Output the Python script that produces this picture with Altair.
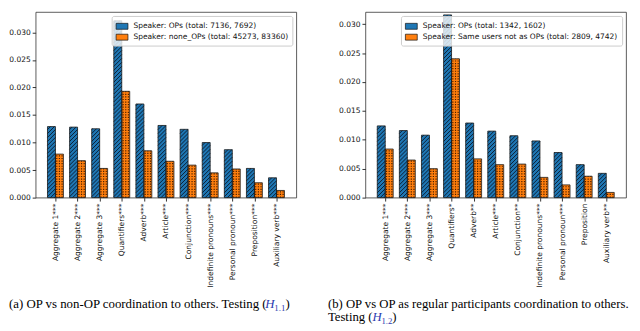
import altair as alt
import pandas as pd

# ---------------- data ----------------
categories_a = ["Aggregate 1***", "Aggregate 2***", "Aggregate 3***", "Quantifiers***",
                "Adverb***", "Article***", "Conjunction***", "Indefinite pronouns***",
                "Personal pronoun***", "Preposition***", "Auxiliary verb***"]
op_a = [0.0129, 0.0128, 0.0125, 0.0321, 0.0170, 0.0131, 0.0124, 0.0100, 0.0087, 0.0053, 0.0036]
non_a = [0.0079, 0.0067, 0.0053, 0.0193, 0.0085, 0.0066, 0.0059, 0.0045, 0.0052, 0.0027, 0.0013]
series_a = ["Speaker: OPs (total: 7136, 7692)", "Speaker: none_OPs (total: 45273, 83360)"]

categories_b = ["Aggregate 1***", "Aggregate 2***", "Aggregate 3***", "Quantifiers*",
                "Adverb**", "Article***", "Conjunction**", "Indefinite pronouns***",
                "Personal pronoun***", "Preposition", "Auxiliary verb**"]
op_b = [0.0124, 0.0116, 0.0108, 0.0316, 0.0129, 0.0115, 0.0107, 0.0098, 0.0078, 0.0057, 0.0042]
non_b = [0.0084, 0.0065, 0.0050, 0.0240, 0.0067, 0.0057, 0.0058, 0.0035, 0.0022, 0.0037, 0.0009]
series_b = ["Speaker: OPs (total: 1342, 1602)", "Speaker: Same users not as OPs (total: 2809, 4742)"]

y_ticks = [0.000, 0.005, 0.010, 0.015, 0.020, 0.025, 0.030]

caption_a = ["(a) OP vs non-OP coordination to others. Testing (", "H", "1.1", ")"]
caption_b1 = "(b) OP vs OP as regular participants coordination to others."
caption_b2 = ["Testing (", "H", "1.2", ")"]

# ---------------- style / layout ----------------
W, H = 264, 188
BW = 0.36
BLUE, ORANGE = "#1f77b4", "#ff7f0e"
HATCH_STEP = 4.0   # px between diagonal lines (vertical distance)
DOT_STEP = 2.6     # px between dot columns
CAP_BLUE = "#2b3bb0"
AX_FS = 7.6


def panel(cats, op, non, series, ymax, captions):
    n = len(cats)
    margin = 0.05 * (n - 1 + 2 * BW)
    xdom = [-BW - margin, n - 1 + BW + margin]
    sx = W / (xdom[1] - xdom[0])
    sy = H / ymax

    rows = []
    for i, (a, b) in enumerate(zip(op, non)):
        rows.append(dict(x0=i - BW, x1=i, y0=0.0, y1=a, s=series[0]))
        rows.append(dict(x0=i, x1=i + BW, y0=0.0, y1=b, s=series[1]))
    bars = pd.DataFrame(rows)

    # diagonal hatch ("///") for the first series, computed from the bar values
    hatch = []
    bwp = BW * sx
    for i, a in enumerate(op):
        bh = a * sy
        c = -bwp + 1.0
        while c < bh:
            xa, xb = max(0.0, -c), min(bwp, bh - c)
            if xb > xa:
                hatch.append(dict(hx0=i - BW + xa / sx, hy0=(xa + c) / sy,
                                  hx1=i - BW + xb / sx, hy1=(xb + c) / sy))
            c += HATCH_STEP
    hatch = pd.DataFrame(hatch)

    # dotted hatch ("...") for the second series: dashed vertical rules
    dots = []
    ncol = max(1, int(bwp / DOT_STEP))
    for i, b in enumerate(non):
        for k in range(ncol):
            xx = i + (k + 0.5) * BW / ncol
            dots.append(dict(dx=xx, dy0=0.0, dy1=b))
    dots = pd.DataFrame(dots)

    label_expr = "[" + ",".join('"%s"' % c for c in cats) + "][datum.value]"
    xaxis = alt.Axis(values=list(range(n)), labelExpr=label_expr, labelAngle=270,
                     labelAlign="right", labelBaseline="middle", labelFontSize=AX_FS,
                     labelColor="#111", tickSize=3.5, tickColor="#333", labelPadding=2,
                     domain=False, grid=False, title=None, labelLimit=300)
    yaxis = alt.Axis(values=y_ticks, format=".3f", labelFontSize=AX_FS, labelColor="#111",
                     tickSize=3.5, tickColor="#333", labelPadding=2, domain=False,
                     grid=False, title=None)
    xs = alt.Scale(domain=xdom, nice=False, zero=False)
    ys = alt.Scale(domain=[0, ymax], nice=False)

    fill_layer = alt.Chart(bars).mark_rect(strokeWidth=0).encode(
        x=alt.X("x0:Q", scale=xs, axis=xaxis), x2="x1:Q",
        y=alt.Y("y1:Q", scale=ys, axis=yaxis), y2="y0:Q",
        fill=alt.Fill("s:N", scale=alt.Scale(domain=series, range=[BLUE, ORANGE]),
                      legend=alt.Legend(title=None, orient="top-right", offset=4, padding=4,
                                        fillColor="rgba(255,255,255,0.8)", strokeColor="#cccccc",
                                        cornerRadius=2, labelFontSize=7.6, labelColor="#111",
                                        symbolType="M-1,-0.5L1,-0.5L1,0.5L-1,0.5Z",
                                        symbolSize=144, symbolStrokeColor="#111",
                                        symbolStrokeWidth=0.7, symbolOpacity=1,
                                        rowPadding=0, labelOffset=5, labelLimit=400)),
    )
    hatch_layer = alt.Chart(hatch).mark_rule(color="#0a2036", strokeWidth=1.0).encode(
        x=alt.X("hx0:Q", scale=xs, axis=xaxis), x2="hx1:Q",
        y=alt.Y("hy0:Q", scale=ys, axis=yaxis), y2="hy1:Q",
    )
    dot_layer = alt.Chart(dots).mark_rule(color="#4a2000", strokeWidth=1.2,
                                          strokeDash=[1.2, 1.4]).encode(
        x=alt.X("dx:Q", scale=xs, axis=xaxis),
        y=alt.Y("dy0:Q", scale=ys, axis=yaxis), y2="dy1:Q",
    )
    edge_layer = alt.Chart(bars).mark_rect(fillOpacity=0, stroke="#1a1a1a",
                                           strokeWidth=0.8).encode(
        x=alt.X("x0:Q", scale=xs, axis=xaxis), x2="x1:Q",
        y=alt.Y("y1:Q", scale=ys, axis=yaxis), y2="y0:Q",
    )
    layers = [fill_layer, hatch_layer, dot_layer, edge_layer] + captions
    return alt.layer(*layers).properties(width=W, height=H)


def txt(s, x, y, size, color="black", italic=False):
    return alt.Chart(pd.DataFrame({"t": [s]})).mark_text(
        align="left", baseline="alphabetic", font="Liberation Serif", fontSize=size,
        color=color, fontStyle="italic" if italic else "normal").encode(
        text="t:N", x=alt.value(x), y=alt.value(y))


FA = 13.0
xa0, ya = -27, 300
wa = 259.5
caps_a = [
    txt(caption_a[0], xa0, ya, FA),
    txt(caption_a[1], xa0 + wa, ya, FA, CAP_BLUE, True),
    txt(caption_a[2], xa0 + wa + 9.2, ya + 2.5, 9, CAP_BLUE),
    txt(caption_a[3], xa0 + wa + 9.2 + 11.3, ya, FA),
]
FB = 12.9
xb0 = -38
wb = 3.50 * FB
caps_b = [
    txt(caption_b1, xb0, ya, FB),
    txt(caption_b2[0], xb0, ya + 13, FB),
    txt(caption_b2[1], xb0 + wb, ya + 13, FB, CAP_BLUE, True),
    txt(caption_b2[2], xb0 + wb + 9.1, ya + 15.5, 8.8, CAP_BLUE),
    txt(caption_b2[3], xb0 + wb + 9.1 + 11.0, ya + 13, FB),
]

left = panel(categories_a, op_a, non_a, series_a, 0.0337, caps_a)
right = panel(categories_b, op_b, non_b, series_b, 0.0321, caps_b)

chart = alt.hconcat(left, right, spacing=30).resolve_scale(
    fill="independent", x="independent", y="independent"
).resolve_legend(fill="independent").properties(
    padding={"left": 0, "top": 1, "right": 1, "bottom": 0}
).configure(font="DejaVu Sans").configure_view(stroke="#333", strokeWidth=0.8)

chart.save("out.html", embed_options={"renderer": "svg", "actions": False})
